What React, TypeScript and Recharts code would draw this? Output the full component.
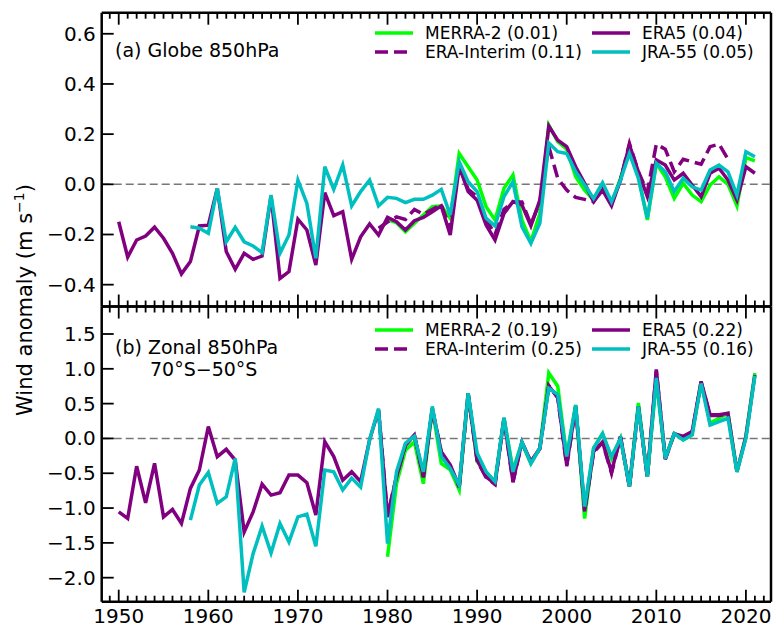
import React from 'react';
import { LineChart, Line, XAxis, YAxis, ReferenceLine } from 'recharts';

// first year of each record
const startEra5 = 1950;
const startJra = 1958;
const startMerra = 1980;
const startInterim = 1979;

// (a) Globe 850hPa
const globeEra5 = [
  -0.149, -0.29, -0.222, -0.206, -0.171, -0.215, -0.275, -0.357, -0.308, -0.166,
  -0.163, -0.016, -0.268, -0.339, -0.275, -0.299, -0.286, -0.047, -0.375, -0.348,
  -0.139, -0.182, -0.322, -0.033, -0.125, -0.109, -0.299, -0.209, -0.158, -0.202,
  -0.132, -0.149, -0.182, -0.145, -0.132, -0.109, -0.086, -0.202, 0.07, -0.029,
  -0.063, -0.162, -0.222, -0.116, -0.069, -0.082, -0.166, -0.063, 0.232, 0.176,
  0.15, 0.07, 0.004, -0.069, -0.023, -0.086, 0.017, 0.157, 0.05, -0.049,
  0.097, 0.077, 0.017, 0.044, -0.003, -0.049, 0.044, 0.064, 0.017, -0.063,
  0.07, 0.044,
];
const globeJra = [
  -0.169, -0.175, -0.195, -0.016, -0.229, -0.171, -0.229, -0.246, -0.272, -0.043,
  -0.275, -0.202, 0.017, -0.076, -0.295, 0.07, -0.02, 0.077, -0.086, -0.029,
  0.017, -0.086, -0.052, -0.056, -0.073, -0.06, -0.06, -0.043, -0.02, -0.122,
  0.09, 0.01, -0.029, -0.135, -0.166, -0.049, 0.01, -0.169, -0.235, -0.155,
  0.165, 0.13, 0.123, 0.05, -0.003, -0.056, 0.006, -0.069, 0.017, 0.123,
  0.024, -0.135, 0.084, 0.05, -0.029, 0.024, -0.01, -0.023, 0.057, 0.077,
  0.05, -0.043, 0.13, 0.11,
];
const globeMerra = [
  -0.142, -0.153, -0.189, -0.155, -0.122, -0.089, -0.086, -0.135, 0.123, 0.07,
  0.017, -0.089, -0.142, -0.016, 0.037, -0.142, -0.229, -0.116, 0.236, 0.17,
  0.14, 0.03, -0.023, -0.063, -0.003, -0.076, 0.024, 0.137, 0.03, -0.142,
  0.084, 0.03, -0.056, 0.004, -0.043, -0.069, -0.003, 0.03, 0.0, -0.086,
  0.106, 0.093,
];
const globeInterim = [
  -0.175, -0.15, -0.13, -0.14, -0.1, -0.12, -0.1, -0.08, -0.18, 0.08,
  -0.02, -0.05, -0.14, -0.2, -0.1, -0.07, -0.07, -0.16, -0.07, 0.15,
  0.024, -0.023, -0.052, -0.06, -0.069, -0.003, -0.076, 0.017, 0.163, 0.05,
  -0.03, 0.16, 0.14, 0.05, 0.1, 0.09, 0.08, 0.15, 0.16, 0.1,
];

// (b) Zonal 850hPa 70S-50S
const zonalEra5 = [
  -1.055, -1.15, -0.4, -0.925, -0.357, -1.127, -1.02, -1.222, -0.718, -0.454,
  0.17, -0.262, -0.156, -0.31, -1.343, -1.055, -0.656, -0.814, -0.78, -0.526,
  -0.526, -0.636, -1.1, -0.046, -0.26, -0.6, -0.48, -0.62, -0.02, 0.41,
  -1.13, -0.55, -0.09, 0.05, -0.55, 0.43, -0.19, -0.38, -0.69, 0.65,
  -0.31, -0.55, -0.65, 0.29, -0.62, -0.05, -0.33, -0.14, 0.75, 0.6,
  -0.38, 0.46, -1.03, -0.19, -0.05, -0.48, 0.03, -0.69, 0.46, -0.55,
  0.99, -0.29, 0.07, 0.03, 0.1, 0.82, 0.34, 0.34, 0.36, -0.48,
  0.03, 0.91,
];
const zonalJra = [
  -1.174, -0.67, -0.49, -0.934, -0.838, -0.286, -2.21, -1.654, -1.26, -1.645,
  -1.222, -1.487, -1.127, -1.088, -1.55, -0.454, -0.48, -0.74, -0.57, -0.7,
  -0.02, 0.43, -1.51, -0.48, -0.07, 0.03, -0.48, 0.46, -0.26, -0.43,
  -0.67, 0.65, -0.21, -0.48, -0.62, 0.3, -0.48, -0.05, -0.36, -0.14,
  0.72, 0.63, -0.26, 0.48, -0.98, -0.14, 0.07, -0.26, 0.0, -0.69,
  0.46, -0.55, 0.87, -0.29, 0.07, -0.02, 0.05, 0.79, 0.19, 0.24,
  0.29, -0.48, 0.0, 0.9,
];
const zonalMerra = [
  -1.7, -0.65, -0.17, -0.05, -0.65, 0.43, -0.36, -0.45, -0.74, 0.65,
  -0.33, -0.48, -0.62, 0.29, -0.45, -0.07, -0.36, -0.14, 0.94, 0.75,
  -0.26, 0.48, -1.15, -0.14, 0.07, -0.29, 0.0, -0.69, 0.51, -0.55,
  0.84, -0.29, 0.07, -0.02, 0.05, 0.82, 0.22, 0.29, 0.36, -0.48,
  0.03, 0.94,
];
const zonalInterim = [
  0.4, -1.1, -0.55, -0.1, 0.04, -0.56, 0.42, -0.2, -0.4, -0.7,
  0.63, -0.32, -0.56, -0.66, 0.28, -0.63, -0.06, -0.34, -0.15, 0.76,
  0.58, -0.4, 0.45, -1.05, -0.2, -0.06, -0.5, 0.02, -0.7, 0.45,
  -0.56, 0.97, -0.3, 0.06, 0.02, 0.09, 0.8, 0.33, 0.33, 0.35,
];

const xTicks = [
  1949, 1950, 1951, 1952, 1953, 1954, 1955, 1956, 1957, 1958, 1959,
  1960, 1961, 1962, 1963, 1964, 1965, 1966, 1967, 1968, 1969,
  1970, 1971, 1972, 1973, 1974, 1975, 1976, 1977, 1978, 1979,
  1980, 1981, 1982, 1983, 1984, 1985, 1986, 1987, 1988, 1989,
  1990, 1991, 1992, 1993, 1994, 1995, 1996, 1997, 1998, 1999,
  2000, 2001, 2002, 2003, 2004, 2005, 2006, 2007, 2008, 2009,
  2010, 2011, 2012, 2013, 2014, 2015, 2016, 2017, 2018, 2019,
  2020, 2021, 2022,
];
const globeTicks = [-0.4, -0.2, 0.0, 0.2, 0.4, 0.6];
const zonalTicks = [-2.0, -1.5, -1.0, -0.5, 0.0, 0.5, 1.0, 1.5];

const globeLegend = ['MERRA-2 (0.01)', 'ERA-Interim (0.11)', 'ERA5 (0.04)', 'JRA-55 (0.05)'];
const zonalLegend = ['MERRA-2 (0.19)', 'ERA-Interim (0.25)', 'ERA5 (0.22)', 'JRA-55 (0.16)'];

const GREEN = '#00ff00';
const PURPLE = '#800080';
const CYAN = '#00bfbf';
const FONT = '"DejaVu Sans", sans-serif';
const XDOMAIN = [1948.1, 2022.8];

function pick(arr: number[], start: number, year: number) {
  const i = year - start;
  return i >= 0 && i < arr.length ? arr[i] : null;
}

function buildRows(era5: number[], jra: number[], merra: number[], interim: number[]) {
  return era5.map((_, i) => {
    const year = startEra5 + i;
    return {
      year,
      era5: era5[i],
      jra: pick(jra, startJra, year),
      merra: pick(merra, startMerra, year),
      interim: pick(interim, startInterim, year),
    };
  });
}

const globeRows = buildRows(globeEra5, globeJra, globeMerra, globeInterim);
const zonalRows = buildRows(zonalEra5, zonalJra, zonalMerra, zonalInterim);

function XTick(props: any) {
  const { x, y, payload, side, label } = props;
  const major = payload.value % 10 === 0;
  const len = major ? 12 : 6;
  const dir = side === 'bottom' ? -1 : 1;
  return (
    <g>
      <line x1={x} x2={x} y1={y} y2={y + dir * len} stroke="#000" strokeWidth={1.8} />
      {label && major && (
        <text x={x} y={y + 21} textAnchor="middle" fontSize={20} fontFamily={FONT} fill="#000">
          {payload.value}
        </text>
      )}
    </g>
  );
}

function YTick(props: any) {
  const { x, y, payload } = props;
  return (
    <g>
      <line x1={x} x2={x + 12} y1={y} y2={y} stroke="#000" strokeWidth={1.8} />
      <text x={x - 6} y={y + 7} textAnchor="end" fontSize={20} fontFamily={FONT} fill="#000">
        {payload.value.toFixed(1).replace('-', '\u2212')}
      </text>
    </g>
  );
}

// axes are 1px thick boxes (recharts skips a 0-size axis), margins are reduced by 1 to compensate
function Panel({ rows, domain, ticks, height, margin, xLabels }: any) {
  const axisLine = { stroke: '#000', strokeWidth: 2.5 };
  return (
    <LineChart width={781} height={height} data={rows} margin={margin}>
      <XAxis
        xAxisId="b" dataKey="year" type="number" domain={XDOMAIN} allowDataOverflow
        ticks={xTicks} interval={0} height={1} tickSize={0} tickMargin={0} axisLine={axisLine}
        tick={(p: any) => <XTick {...p} side="bottom" label={xLabels} />}
      />
      <XAxis
        xAxisId="t" orientation="top" dataKey="year" type="number" domain={XDOMAIN} allowDataOverflow
        ticks={xTicks} interval={0} height={1} tickSize={0} tickMargin={0} axisLine={axisLine}
        tick={(p: any) => <XTick {...p} side="top" />}
      />
      <YAxis
        yAxisId="l" type="number" domain={domain} allowDataOverflow ticks={ticks} interval={0}
        width={1} tickSize={0} tickMargin={0} axisLine={axisLine} tick={(p: any) => <YTick {...p} />}
      />
      <YAxis
        yAxisId="r" orientation="right" type="number" domain={domain} allowDataOverflow
        width={1} tick={false} tickLine={false} axisLine={axisLine}
      />
      <ReferenceLine xAxisId="b" yAxisId="l" y={0} stroke="#777" strokeWidth={1.5} strokeDasharray="8 4" />
      <Line xAxisId="b" yAxisId="l" dataKey="merra" stroke={GREEN} strokeWidth={3.5} dot={false} isAnimationActive={false} />
      <Line xAxisId="b" yAxisId="l" dataKey="interim" stroke={PURPLE} strokeWidth={3.5} strokeDasharray="13 6" dot={false} isAnimationActive={false} />
      <Line xAxisId="b" yAxisId="l" dataKey="era5" stroke={PURPLE} strokeWidth={3.5} dot={false} isAnimationActive={false} />
      <Line xAxisId="b" yAxisId="l" dataKey="jra" stroke={CYAN} strokeWidth={3.5} dot={false} isAnimationActive={false} />
    </LineChart>
  );
}

function LegendItem({ left, top, color, dashed, text }: any) {
  return (
    <div style={{ position: 'absolute', left, top: top - 11, height: 22, display: 'flex', alignItems: 'center' }}>
      <svg width={38} height={22}>
        <line x1={0} x2={38} y1={11} y2={11} stroke={color} strokeWidth={3.5} strokeDasharray={dashed ? '13 6' : undefined} />
      </svg>
      <span style={{ marginLeft: 12, fontSize: 17, fontFamily: FONT, whiteSpace: 'nowrap' }}>{text}</span>
    </div>
  );
}

function LegendBox({ row1, row2, labels }: any) {
  return (
    <>
      <LegendItem left={375} top={row1} color={GREEN} text={labels[0]} />
      <LegendItem left={375} top={row2} color={PURPLE} dashed text={labels[1]} />
      <LegendItem left={592} top={row1} color={PURPLE} text={labels[2]} />
      <LegendItem left={592} top={row2} color={CYAN} text={labels[3]} />
    </>
  );
}

const textStyle: React.CSSProperties = { position: 'absolute', fontSize: 19, fontFamily: FONT, whiteSpace: 'nowrap', lineHeight: '22px' };

export default function App() {
  return (
    <div style={{ position: 'absolute', left: 0, top: 0, width: 781, height: 629, background: '#fff', overflow: 'hidden' }}>
      <div style={{ position: 'absolute', left: 0, top: 0 }}>
        <Panel rows={globeRows} domain={[-0.487, 0.684]} ticks={globeTicks} height={320}
          margin={{ top: 11.7, right: 9, bottom: 12.5, left: 100.7 }} xLabels={false} />
      </div>
      <div style={{ position: 'absolute', left: 0, top: 300 }}>
        <Panel rows={zonalRows} domain={[-2.345, 1.895]} ticks={zonalTicks} height={329}
          margin={{ top: 5.5, right: 9, bottom: 26.3, left: 100.7 }} xLabels />
      </div>
      <LegendBox row1={33} row2={52} labels={globeLegend} />
      <LegendBox row1={330} row2={349} labels={zonalLegend} />
      <div style={{ ...textStyle, left: 115, top: 39 }}>(a) Globe 850hPa</div>
      <div style={{ ...textStyle, left: 115, top: 336 }}>(b) Zonal 850hPa</div>
      <div style={{ ...textStyle, left: 150, top: 358 }}>70°S−50°S</div>
      <div style={{ position: 'absolute', left: 24, top: 300, transform: 'translate(-50%, -50%) rotate(-90deg)', fontSize: 21, fontFamily: FONT, whiteSpace: 'nowrap' }}>
        Wind anomaly (m s<sup style={{ fontSize: 14 }}>−1</sup>)
      </div>
    </div>
  );
}
